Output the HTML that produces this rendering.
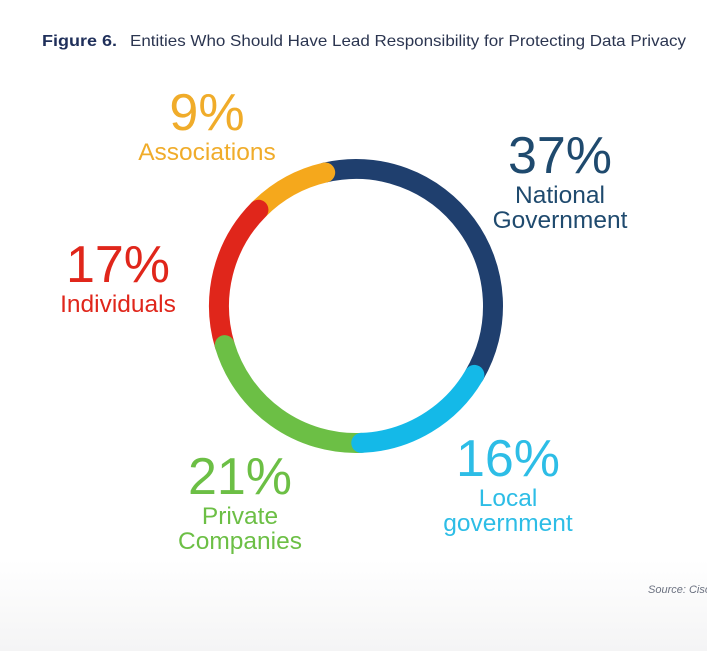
<!DOCTYPE html>
<html><head><meta charset="utf-8"><style>
html,body{margin:0;padding:0}
body{width:707px;height:651px;overflow:hidden;background:linear-gradient(#fff 0,#fff 560px,#f4f4f5 651px);font-family:"Liberation Sans",sans-serif;position:relative}
</style></head><body>
<svg width="707" height="651" style="position:absolute;left:0;top:0" font-family="Liberation Sans, sans-serif">
<text x="42" y="46" font-size="16" fill="#1f2f5a"><tspan font-weight="bold" textLength="75" lengthAdjust="spacingAndGlyphs">Figure 6.</tspan><tspan x="130" fill="#2b3550" textLength="556" lengthAdjust="spacingAndGlyphs">Entities Who Should Have Lead Responsibility for Protecting Data Privacy</tspan></text>
<g id="ring"></g>
<g id="labels"></g>
<text x="648" y="593" font-size="11" font-style="italic" fill="#6b7180">Source: Cisco</text>
</svg>
<script>
const categories=["National Government","Local government","Private Companies","Individuals","Associations"];
const values=[37,16,21,17,9];
const valueLabels=["37%","16%","21%","17%","9%"];
const colors=["#1f3f6e","#14b9e8","#6cbf45","#e0261b","#f5a81c"];
const labelLines=[["National","Government"],["Local","government"],["Private","Companies"],["Individuals"],["Associations"]];
const labelPos=[[560,173],[508,476],[240,494],[118,282],[207,130]];
const textColors=["#1f4a6e","#2dbde6","#6cbf45","#e0261b","#f0ac2a"];
const cx=356,cy=306,r=137,sw=20,offset=-13;
const ns="http://www.w3.org/2000/svg";
const total=values.reduce((a,b)=>a+b,0);
function pt(a){const t=(a-90)*Math.PI/180;return [cx+r*Math.cos(t),cy+r*Math.sin(t)];}
const arcs=[];let acc=0;
values.forEach((v,i)=>{const a0=offset+acc/total*360;acc+=v;const a1=offset+acc/total*360;arcs.push([i,a0,a1]);});
const ring=document.getElementById('ring');
[0,4,3,2,1].forEach(k=>{const [i,a0,a1]=arcs[k];const p0=pt(a0),p1=pt(a1);
 const p=document.createElementNS(ns,'path');
 p.setAttribute('d',`M${p0[0]},${p0[1]} A${r},${r} 0 ${a1-a0>180?1:0} 1 ${p1[0]},${p1[1]}`);
 p.setAttribute('fill','none');p.setAttribute('stroke',colors[i]);p.setAttribute('stroke-width',sw);p.setAttribute('stroke-linecap','round');
 
 
 ring.appendChild(p);});
const lg=document.getElementById('labels');
values.forEach((v,i)=>{const [x,y]=labelPos[i];
 const t=document.createElementNS(ns,'text');t.setAttribute('x',x);t.setAttribute('y',y);t.setAttribute('text-anchor','middle');
 t.setAttribute('font-size','52');t.setAttribute('fill',textColors[i]);t.textContent=valueLabels[i];
 
 
 lg.appendChild(t);
 labelLines[i].forEach((s,j)=>{const u=document.createElementNS(ns,'text');u.setAttribute('x',x);u.setAttribute('y',y+30+j*25);u.setAttribute('text-anchor','middle');
  u.setAttribute('font-size','24.5');u.setAttribute('fill',textColors[i]);u.textContent=s;
  
  
  lg.appendChild(u);});
});
</script>
</body></html>
